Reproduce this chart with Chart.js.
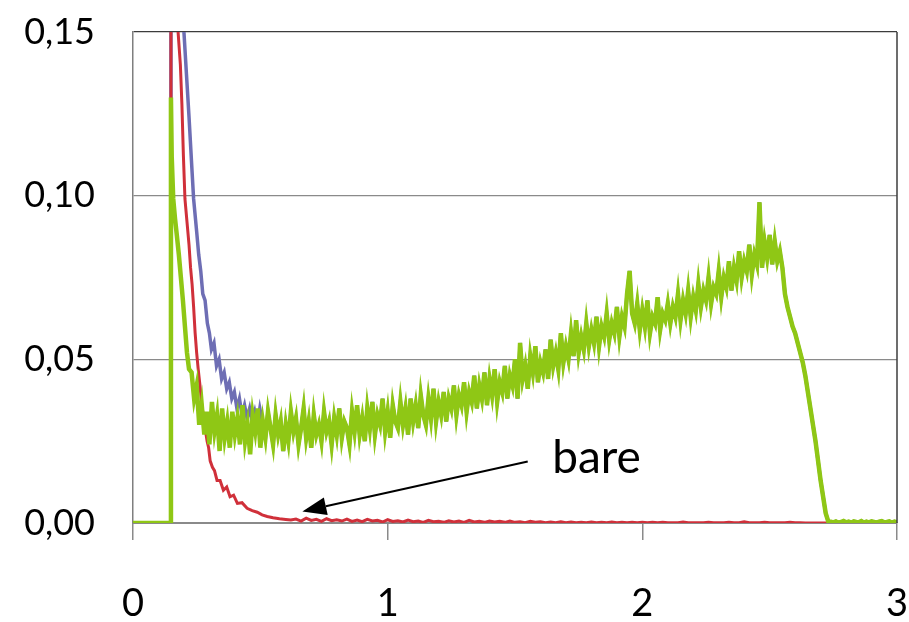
<!DOCTYPE html>
<html>
<head>
<meta charset="utf-8">
<script src="https://cdn.jsdelivr.net/npm/chart.js@4"></script>
<style>
  html, body { margin: 0; padding: 0; background: #fff; }
</style>
</head>
<body>
<canvas id="chart" width="909" height="622"></canvas>
<script>
// --- data ---

// axis ticks
const xTicks = [0, 1, 2, 3];
const yTicks = [0, 0.05, 0.10, 0.15];

// green: steep head, then samples every 0.01 from 0.23
const greenHeadX = [0, 0.147, 0.149, 0.152, 0.158, 0.165, 0.172, 0.180, 0.188, 0.196, 0.204, 0.212, 0.220];
const greenHeadY = [0, 0, 0.130, 0.112, 0.099, 0.093, 0.088, 0.082, 0.075, 0.068, 0.060, 0.052, 0.047];
const greenStart = 0.23;
const greenStep = 0.01;
const greenY = [
  // 0.23-0.29
  0.046, 0.038, 0.042, 0.030, 0.036, 0.027, 0.034,
  // 0.30-0.39
  0.024, 0.037, 0.028, 0.033, 0.022, 0.035, 0.026, 0.031, 0.023, 0.034,
  // 0.40-0.49
  0.027, 0.032, 0.024, 0.036, 0.025, 0.030, 0.021, 0.033, 0.028, 0.035,
  // 0.50-0.59
  0.023, 0.031, 0.026, 0.034, 0.029, 0.024, 0.033, 0.027, 0.031, 0.022,
  // 0.60-0.69
  0.030, 0.025, 0.034, 0.028, 0.032, 0.024, 0.029, 0.035, 0.026, 0.031,
  // 0.70-0.79
  0.023, 0.033, 0.027, 0.030, 0.025, 0.034, 0.028, 0.031, 0.024, 0.032,
  // 0.80-0.89
  0.027, 0.035, 0.026, 0.031, 0.029, 0.024, 0.034, 0.028, 0.036, 0.027,
  // 0.90-0.99
  0.032, 0.025, 0.035, 0.029, 0.037, 0.027, 0.033, 0.030, 0.038, 0.028,
  // 1.00-1.09
  0.034, 0.026, 0.036, 0.031, 0.029, 0.037, 0.030, 0.035, 0.027, 0.038,
  // 1.10-1.19
  0.031, 0.036, 0.029, 0.039, 0.033, 0.030, 0.038, 0.032, 0.041, 0.031,
  // 1.20-1.29
  0.037, 0.033, 0.040, 0.031, 0.038, 0.035, 0.042, 0.033, 0.039, 0.036,
  // 1.30-1.39
  0.043, 0.034, 0.040, 0.037, 0.045, 0.035, 0.042, 0.038, 0.046, 0.036,
  // 1.40-1.49
  0.044, 0.039, 0.047, 0.037, 0.043, 0.040, 0.048, 0.038, 0.045, 0.042,
  // 1.50-1.59
  0.050, 0.038, 0.055, 0.044, 0.048, 0.041, 0.051, 0.046, 0.054, 0.043,
  // 1.60-1.69
  0.049, 0.046, 0.053, 0.044, 0.056, 0.048, 0.052, 0.047, 0.058, 0.049,
  // 1.70-1.79
  0.054, 0.050, 0.058, 0.051, 0.062, 0.052, 0.057, 0.053, 0.061, 0.054,
  // 1.80-1.89
  0.059, 0.055, 0.063, 0.054, 0.060, 0.057, 0.064, 0.056, 0.061, 0.058,
  // 1.90-1.99
  0.066, 0.057, 0.063, 0.060, 0.070, 0.077, 0.064, 0.061, 0.067, 0.059,
  // 2.00-2.09
  0.065, 0.060, 0.068, 0.058, 0.063, 0.061, 0.069, 0.059, 0.064, 0.062,
  // 2.10-2.19
  0.067, 0.061, 0.066, 0.063, 0.070, 0.062, 0.068, 0.064, 0.071, 0.063,
  // 2.20-2.29
  0.069, 0.065, 0.073, 0.066, 0.071, 0.068, 0.075, 0.067, 0.072, 0.070,
  // 2.30-2.39
  0.077, 0.069, 0.075, 0.072, 0.080, 0.071, 0.078, 0.074, 0.083, 0.075,
  // 2.40-2.49
  0.080, 0.077, 0.085, 0.076, 0.082, 0.079, 0.098, 0.078, 0.086, 0.081,
  // 2.50-2.54
  0.088, 0.079, 0.086, 0.080, 0.083,
  // 2.55-2.73 (fall-off)
  0.078, 0.070, 0.066, 0.063, 0.060, 0.058, 0.055, 0.052, 0.049, 0.045,
  0.040, 0.035, 0.030, 0.025, 0.019, 0.013, 0.008, 0.003, 0.0005,
  // 2.74-3.00
  0.0004, 0.0002, 0.0005, 0.0001, 0.0003, 0.0006, 0.0002, 0.0004, 0.0001, 0.0005,
  0.0003, 0.0002, 0.0006, 0.0001, 0.0004, 0.0002, 0.0005, 0.0003, 0.0001, 0.0004,
  0.0006, 0.0002, 0.0003, 0.0005, 0.0001, 0.0004, 0.0002
];

// blue: head only, coincides with green from 0.52 on
const blueHeadX = [0, 0.147, 0.149, 0.192, 0.200, 0.210, 0.220, 0.230, 0.238, 0.250,
  0.258, 0.266, 0.274, 0.283, 0.292, 0.300, 0.308, 0.318, 0.328, 0.338,
  0.348, 0.358, 0.368, 0.378, 0.388, 0.398, 0.408, 0.418, 0.428, 0.438,
  0.448, 0.458, 0.468, 0.478, 0.488, 0.498, 0.508];
const blueHeadY = [0, 0, 0.300, 0.170, 0.150, 0.137, 0.124, 0.110, 0.099, 0.089,
  0.082, 0.077, 0.070, 0.068, 0.061, 0.058, 0.053, 0.055, 0.048, 0.050,
  0.044, 0.046, 0.041, 0.043, 0.038, 0.040, 0.035, 0.038, 0.033, 0.036,
  0.032, 0.035, 0.031, 0.034, 0.030, 0.035, 0.031];

// red ("bare"): head, then samples every 0.02 from 0.64
const redHeadX = [0, 0.147, 0.149, 0.170, 0.177, 0.186, 0.192, 0.198, 0.204, 0.212,
  0.220, 0.226, 0.232, 0.238, 0.244, 0.250, 0.256, 0.263, 0.270, 0.276,
  0.283, 0.291, 0.297, 0.303, 0.312, 0.320, 0.330, 0.342, 0.355, 0.368,
  0.381, 0.395, 0.410, 0.428, 0.448, 0.468, 0.488, 0.507, 0.527, 0.550,
  0.575, 0.600, 0.620];
const redHeadY = [0, 0, 0.350, 0.350, 0.150, 0.140, 0.128, 0.112, 0.099, 0.092,
  0.085, 0.078, 0.073, 0.066, 0.058, 0.052, 0.047, 0.042, 0.036, 0.033,
  0.029, 0.025, 0.023, 0.019, 0.017, 0.016, 0.013, 0.013, 0.010, 0.011,
  0.008, 0.0085, 0.006, 0.0062, 0.0045, 0.0038, 0.0033, 0.0025, 0.002, 0.0016,
  0.0013, 0.0011, 0.0009];
const redStart = 0.64;
const redStep = 0.02;
const redY = [
  0.0012, 0.0006, 0.0015, 0.0008, 0.0011, 0.0005, 0.0013, 0.0007, 0.0010, 0.0006,
  0.0012, 0.0005, 0.0009, 0.0004, 0.0011, 0.0006, 0.0008, 0.0003, 0.0010, 0.0005,
  0.0007, 0.0003, 0.0009, 0.0004, 0.0006, 0.0002, 0.0008, 0.0004, 0.0005, 0.0002,
  0.0007, 0.0003, 0.0006, 0.0002, 0.0008, 0.0003, 0.0005, 0.0002, 0.0006, 0.0003,
  0.0005, 0.0002, 0.0006, 0.0002, 0.0004, 0.0001, 0.0005, 0.0002, 0.0004, 0.0001,
  0.0003, 0.0001, 0.0004, 0.0001, 0.0003, 0.0001, 0.0002, 0.0001, 0.0003, 0.0001,
  0.0002, 0.0001, 0.0003, 0.0001, 0.0002, 0.0001, 0.0002, 0.0001, 0.0002, 0.0001,
  0.0002, 0.0001, 0.0002, 0.0001, 0.0001, 0.0001, 0.0003, 0.0001, 0.0001, 0.0001,
  0.0001, 0.0002, 0.0001, 0.0001, 0.0001, 0.0002, 0.0001, 0.0001, 0.0004, 0.0001,
  0.0001, 0.0001, 0.0002, 0.0001, 0.0001, 0.0001, 0.0001, 0.0002, 0.0001, 0.0001,
  0, 0, 0, 0, 0, 0, 0, 0, 0, 0,
  0, 0, 0, 0, 0, 0, 0, 0, 0
];

// --- build points ---
function toPoints(xs, ys) {
  return xs.map((x, i) => ({ x, y: ys[i] }));
}
function sampled(start, step, ys) {
  return ys.map((y, i) => ({ x: +(start + i * step).toFixed(3), y }));
}

const greenPoints = toPoints(greenHeadX, greenHeadY).concat(sampled(greenStart, greenStep, greenY));
const bluePoints = toPoints(blueHeadX, blueHeadY).concat(greenPoints.filter(p => p.x >= 0.52));
const redPoints = toPoints(redHeadX, redHeadY).concat(sampled(redStart, redStep, redY));

// arrow + "bare" label, in data units
const arrowNote = {
  text: 'bare',
  tip: [0.665, 0.0035],
  tail: [1.55, 0.0188],
  label: [1.646, 0.0153],
};

const frame = {
  id: 'frame',
  afterDraw(chart) {
    const { ctx, chartArea: a } = chart;
    ctx.save();
    ctx.strokeStyle = '#3c3c3c';
    ctx.lineWidth = 1.5;
    ctx.beginPath();
    ctx.moveTo(a.right, a.top);
    ctx.lineTo(a.right, a.bottom);
    ctx.stroke();
    ctx.restore();
  },
};

const note = {
  id: 'note',
  afterDatasetsDraw(chart) {
    const { ctx, scales: { x, y } } = chart;
    const tx = x.getPixelForValue(arrowNote.tip[0]);
    const ty = y.getPixelForValue(arrowNote.tip[1]);
    const sx = x.getPixelForValue(arrowNote.tail[0]);
    const sy = y.getPixelForValue(arrowNote.tail[1]);
    const ang = Math.atan2(ty - sy, tx - sx);
    const headLen = 24, headHalf = 9;
    const bx = tx - headLen * Math.cos(ang);
    const by = ty - headLen * Math.sin(ang);

    ctx.save();
    ctx.strokeStyle = '#000';
    ctx.fillStyle = '#000';
    ctx.lineWidth = 2;
    ctx.beginPath();
    ctx.moveTo(sx, sy);
    ctx.lineTo(bx, by);
    ctx.stroke();
    ctx.beginPath();
    ctx.moveTo(tx, ty);
    ctx.lineTo(bx + headHalf * Math.sin(ang), by - headHalf * Math.cos(ang));
    ctx.lineTo(bx - headHalf * Math.sin(ang), by + headHalf * Math.cos(ang));
    ctx.closePath();
    ctx.fill();

    ctx.font = '46px Lato';
    ctx.textAlign = 'left';
    ctx.textBaseline = 'alphabetic';
    ctx.fillText(arrowNote.text, x.getPixelForValue(arrowNote.label[0]), y.getPixelForValue(arrowNote.label[1]));
    ctx.restore();
  },
};

const line = (data, color, width) => ({
  data,
  borderColor: color,
  borderWidth: width,
  pointRadius: 0,
  tension: 0,
  fill: false,
  clip: 0,
});

new Chart(document.getElementById('chart'), {
  type: 'line',
  data: {
    datasets: [
      line(greenPoints, '#8fc715', 4.5),
      line(redPoints, '#d0303a', 3),
      line(bluePoints, '#6e6eb4', 3.5),
    ],
  },
  options: {
    responsive: false,
    animation: false,
    events: [],
    layout: { padding: { top: 32, right: 12, left: 0, bottom: 0 } },
    plugins: { legend: { display: false }, tooltip: { enabled: false } },
    scales: {
      x: {
        type: 'linear',
        min: xTicks[0],
        max: xTicks[xTicks.length - 1],
        afterBuildTicks: s => { s.ticks = xTicks.map(v => ({ value: v })); },
        afterFit: s => { s.height = 99; s.paddingLeft = 0; s.paddingRight = 0; },
        ticks: {
          color: '#000',
          font: { family: 'Lato', size: 38 },
          padding: 41,
          maxRotation: 0,
          callback: v => String(v),
        },
        grid: { drawOnChartArea: false, drawTicks: true, tickLength: 17, color: '#8a8a8a', lineWidth: 1.5 },
        border: { color: '#8a8a8a', width: 2 },
      },
      y: {
        min: yTicks[0],
        max: yTicks[yTicks.length - 1],
        afterBuildTicks: s => { s.ticks = yTicks.map(v => ({ value: v })); },
        afterFit: s => { s.width = 133; s.paddingTop = 0; s.paddingBottom = 0; },
        ticks: {
          color: '#000',
          font: { family: 'Lato', size: 36 },
          padding: 38,
          callback: v => v.toFixed(2).replace('.', ','),
        },
        grid: {
          drawTicks: false,
          color: c => (c.tick && c.tick.value >= 0.149 ? '#3c3c3c' : '#8a8a8a'),
          lineWidth: 1.3,
        },
        border: { color: '#7f7f7f', width: 1.5 },
      },
    },
  },
  plugins: [frame, note],
});
</script>
</body>
</html>
